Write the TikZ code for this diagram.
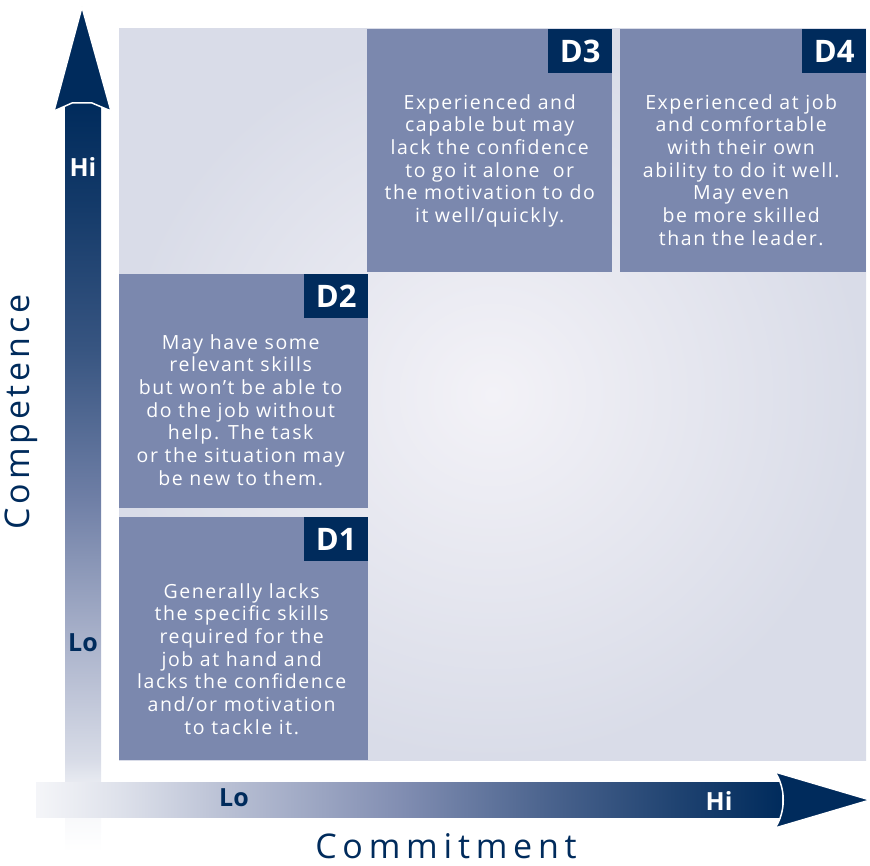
\documentclass[tikz,border=0pt]{standalone}
\usepackage{fontspec}
\setmainfont{Open Sans}
\newfontfamily\spacedfam{Open Sans}[LetterSpace=8]
\newfontfamily\verticalfam{Open Sans}[LetterSpace=11]
\newfontfamily\horizontalfam{Open Sans}[LetterSpace=17]
\usetikzlibrary{positioning}

\definecolor{navy}{HTML}{002B5C}
\definecolor{boxblue}{HTML}{7B88AE}
\definecolor{fieldlight}{HTML}{F3F2F7}
\definecolor{fielddark}{HTML}{D9DCE8}

\newcommand\descfont{\spacedfam\fontsize{19.5}{22.7}\selectfont}
\newcommand\tagfont{\bfseries\fontsize{31}{31}\selectfont}
\newcommand\levelfont{\bfseries\fontsize{25}{25}\selectfont}

% shaft of the competence axis, white at the bottom, navy at the top
\pgfdeclareverticalshading{competencefade}{100bp}{%
  color(0bp)=(white); color(25bp)=(white);
  color(28.5bp)=(white!92!boxblue); color(31.2bp)=(white!70!boxblue);
  color(39.2bp)=(white!35!boxblue); color(48.6bp)=(boxblue!90!navy);
  color(58.6bp)=(boxblue!45!navy); color(68.6bp)=(boxblue!15!navy);
  color(75bp)=(navy); color(100bp)=(navy)}
% shaft of the commitment axis, white on the left, navy on the right
\pgfdeclarehorizontalshading{commitmentfade}{100bp}{%
  color(0bp)=(white); color(25bp)=(white!92!boxblue);
  color(30.6bp)=(white!75!boxblue); color(38.3bp)=(white!45!boxblue);
  color(49.4bp)=(white!5!boxblue); color(59.4bp)=(boxblue!60!navy);
  color(68.1bp)=(boxblue!25!navy); color(75bp)=(navy); color(100bp)=(navy)}

\begin{document}
\begin{tikzpicture}[x=1pt,y=-1pt,
    cell/.style={fill=boxblue, inner sep=0pt, anchor=north west},
    tag/.style={fill=navy, text=white, font=\tagfont, inner sep=0pt,
      minimum width=64pt, minimum height=44pt, anchor=north east},
    desc/.style={text=white, font=\descfont, align=center, inner sep=0pt},
    level/.style={font=\levelfont, inner sep=0pt},
    axis title/.style={text=navy, inner sep=0pt},
    head/.style={fill=navy, draw=white, line width=1.5pt, line join=round}]

  \useasboundingbox (0,0) rectangle (870,866);

  % light field behind the four levels
  \shade[inner color=fieldlight, outer color=fielddark] (119,29) rectangle (866,760);

  % development levels
  \node[cell, minimum width=245pt, minimum height=243pt] (d3) at (367,29) {};
  \node[cell, minimum width=246pt, minimum height=243pt] (d4) at (620,29) {};
  \node[cell, minimum width=249pt, minimum height=234pt] (d2) at (119,274) {};
  \node[cell, minimum width=249pt, minimum height=243pt] (d1) at (119,517) {};

  \node[tag] (d3tag) at (d3.north east) {D3};
  \node[tag] (d4tag) at (d4.north east) {D4};
  \node[tag] (d2tag) at (d2.north east) {D2};
  \node[tag] (d1tag) at (d1.north east) {D1};

  \node[desc, below=65pt of d3.north] (d3text) {Experienced and\\capable but may\\lack the confidence\\to go it alone\ \ or\\the motivation to do\\it well/quickly.};
  \node[desc, below=65pt of d4.north, xshift=-2pt] (d4text) {Experienced at job\\and comfortable\\with their own\\ability to do it well.\\May even\\be more skilled\\than the leader.};
  \node[desc, below=60pt of d2.north, xshift=-3pt] (d2text) {May have some\\relevant skills\\but won’t be able to\\do the job without\\help. The task\\or the situation may\\be new to them.};
  \node[desc, below=66pt of d1.north, xshift=-2pt] (d1text) {Generally lacks\\the specific skills\\required for the\\job at hand and\\lacks the confidence\\and/or motivation\\to tackle it.};

  % competence axis
  \shade[shading=competencefade] (65,103) rectangle (101,852);
  \draw[head] (82,7) -- (111,111) -- (92,103) -- (72,103) -- (54,111) -- cycle;

  % commitment axis
  \shade[shading=commitmentfade] (36,782) rectangle (782,817);
  \draw[head] (775,772) -- (870,800) -- (775,828)
    .. controls (786,812) and (786,788) .. cycle;

  \node[level, text=white] (chi) at (83,167) {Hi};
  \node[level, text=navy] (clo) at (83,643) {Lo};
  \node[level, text=navy] (mlo) at (234,798) {Lo};
  \node[level, text=white] (mhi) at (719,801) {Hi};

  \node[axis title, font=\verticalfam\fontsize{34}{34}\selectfont, rotate=90] (competence) at (21,412) {Competence};
  \node[axis title, font=\horizontalfam\fontsize{34}{34}\selectfont] (commitment) at (446,846) {Commitment};
\end{tikzpicture}
\end{document}
